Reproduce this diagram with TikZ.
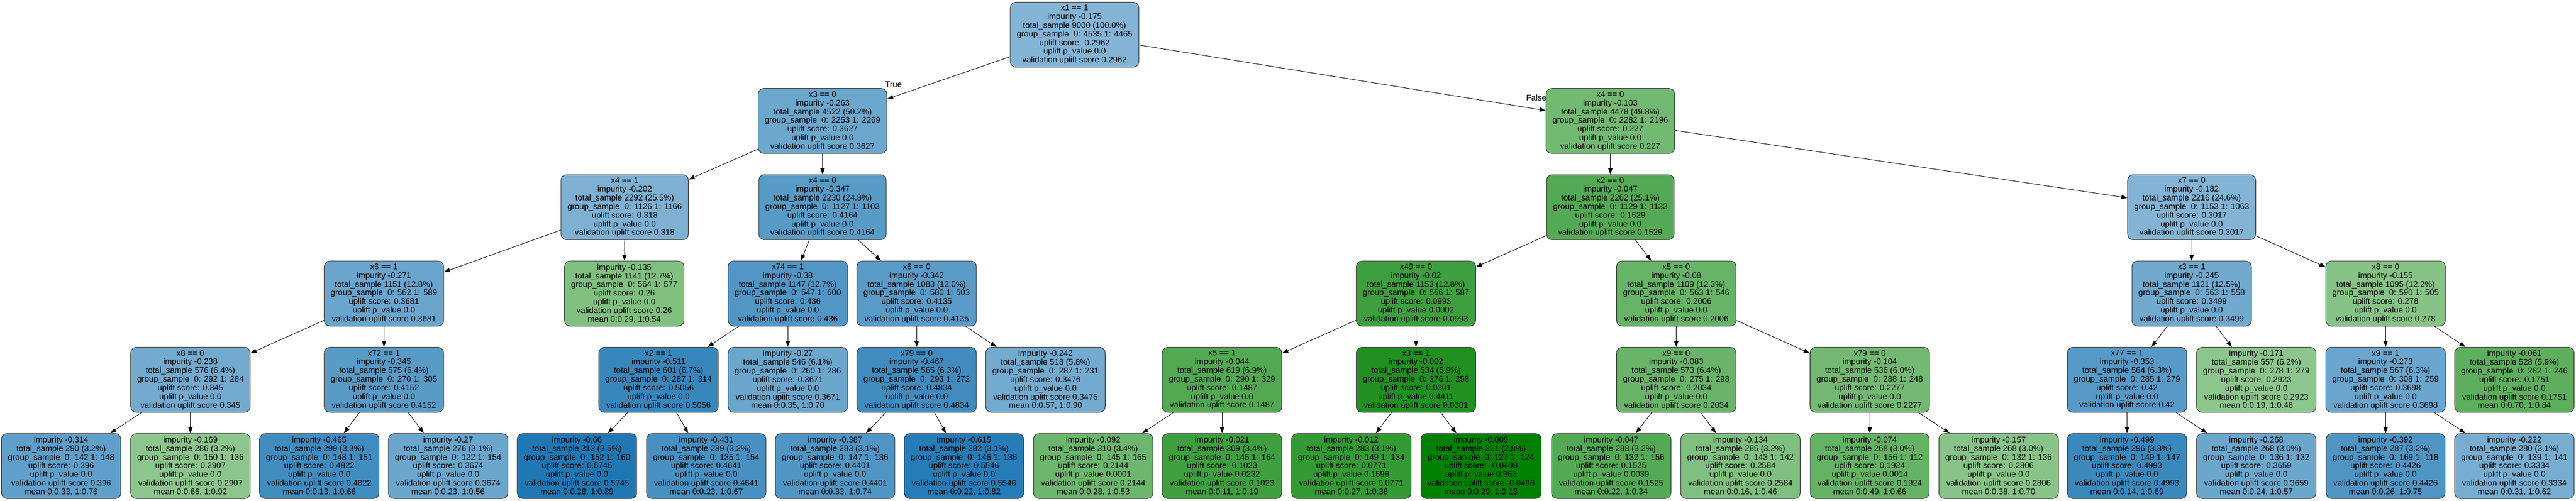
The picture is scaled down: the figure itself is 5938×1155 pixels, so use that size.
\documentclass[tikz,border=0pt]{standalone}
\usepackage{fontspec}
\setmainfont{Liberation Sans}
\usetikzlibrary{arrows.meta}

\definecolor{upblue}{HTML}{1F78B4}
\definecolor{upgreen}{HTML}{008000}

% text of a split node and of a leaf
\newcommand\splitlbl[7]{#1\\impurity #2\\total\_sample #3\\group\_sample~ 0: #4 1: #5\\uplift score: #6\\uplift p\_value #7\\validation uplift score #6}
\newcommand\leaflbl[8]{impurity #1\\total\_sample #2\\group\_sample~ 0: #3 1: #4\\uplift score: #5\\uplift p\_value #6\\validation uplift score #5\\mean 0:#7, 1:#8}

\tikzset{
  treenode/.style={draw=black!80, line width=1.3pt, rounded corners=13pt, align=center,
    inner xsep=15pt, inner ysep=0pt, minimum height=150pt, text=black,
    font=\fontsize{19}{20}\selectfont},
  bluenode/.code={\pgfmathsetmacro\nodepct{100-163*(0.5745-#1)}%
    \edef\nodeopts{\noexpand\pgfkeysalso{treenode, fill=upblue!\nodepct!white}}\nodeopts},
  greennode/.code={\pgfmathsetmacro\nodepct{100-162*(#1+0.0498)}%
    \edef\nodeopts{\noexpand\pgfkeysalso{treenode, fill=upgreen!\nodepct!white}}\nodeopts},
  branchlbl/.style={inner sep=0pt, text=black, font=\fontsize{19}{20}\selectfont},
}

\begin{document}
\begin{tikzpicture}[x=1pt, y=-1pt, ->, >={Triangle[length=14pt, width=10pt]}, line width=1.1pt]
\useasboundingbox (0,0) rectangle (5938,1155);

% level 0 and 1
\node[bluenode=0.2962] (r) at (2477,80) {\splitlbl{x1 == 1}{-0.175}{9000 (100.0\%)}{4535}{4465}{0.2962}{0.0}};
\node[bluenode=0.3627] (L) at (1896,279) {\splitlbl{x3 == 0}{-0.263}{4522 (50.2\%)}{2253}{2269}{0.3627}{0.0}};
\node[greennode=0.227] (R) at (3712,279) {\splitlbl{x4 == 0}{-0.103}{4478 (49.8\%)}{2282}{2196}{0.227}{0.0}};

% level 2
\node[bluenode=0.318] (LL) at (1440,478) {\splitlbl{x4 == 1}{-0.202}{2292 (25.5\%)}{1126}{1166}{0.318}{0.0}};
\node[bluenode=0.4164] (LR) at (1896,478) {\splitlbl{x4 == 0}{-0.347}{2230 (24.8\%)}{1127}{1103}{0.4164}{0.0}};
\node[greennode=0.1529] (RL) at (3712,478) {\splitlbl{x2 == 0}{-0.047}{2262 (25.1\%)}{1129}{1133}{0.1529}{0.0}};
\node[bluenode=0.3017] (RR) at (5052,478) {\splitlbl{x7 == 0}{-0.182}{2216 (24.6\%)}{1153}{1063}{0.3017}{0.0}};

% level 3
\node[bluenode=0.3681] (LLL) at (885,677) {\splitlbl{x6 == 1}{-0.271}{1151 (12.8\%)}{562}{589}{0.3681}{0.0}};
\node[greennode=0.26] (LLR) at (1439,677) {\leaflbl{-0.135}{1141 (12.7\%)}{564}{577}{0.26}{0.0}{0.29}{0.54}};
\node[bluenode=0.436] (LRL) at (1816,677) {\splitlbl{x74 == 1}{-0.38}{1147 (12.7\%)}{547}{600}{0.436}{0.0}};
\node[bluenode=0.4135] (LRR) at (2113,677) {\splitlbl{x6 == 0}{-0.342}{1083 (12.0\%)}{580}{503}{0.4135}{0.0}};
\node[greennode=0.0993] (RLL) at (3264,677) {\splitlbl{x49 == 0}{-0.02}{1153 (12.8\%)}{566}{587}{0.0993}{0.0002}};
\node[greennode=0.2006] (RLR) at (3864,677) {\splitlbl{x5 == 0}{-0.08}{1109 (12.3\%)}{563}{546}{0.2006}{0.0}};
\node[bluenode=0.3499] (RRL) at (5052,677) {\splitlbl{x3 == 1}{-0.245}{1121 (12.5\%)}{563}{558}{0.3499}{0.0}};
\node[greennode=0.278] (RRR) at (5499,677) {\splitlbl{x8 == 0}{-0.155}{1095 (12.2\%)}{590}{505}{0.278}{0.0}};

% level 4
\node[bluenode=0.345] (LLLL) at (439,876) {\splitlbl{x8 == 0}{-0.238}{576 (6.4\%)}{292}{284}{0.345}{0.0}};
\node[bluenode=0.4152] (LLLR) at (885,876) {\splitlbl{x72 == 1}{-0.345}{575 (6.4\%)}{270}{305}{0.4152}{0.0}};
\node[bluenode=0.5056] (LRLL) at (1518,876) {\splitlbl{x2 == 1}{-0.511}{601 (6.7\%)}{287}{314}{0.5056}{0.0}};
\node[bluenode=0.3671] (LRLR) at (1816,876) {\leaflbl{-0.27}{546 (6.1\%)}{260}{286}{0.3671}{0.0}{0.35}{0.70}};
\node[bluenode=0.4834] (LRRL) at (2113,876) {\splitlbl{x79 == 0}{-0.467}{565 (6.3\%)}{293}{272}{0.4834}{0.0}};
\node[bluenode=0.3476] (LRRR) at (2410,876) {\leaflbl{-0.242}{518 (5.8\%)}{287}{231}{0.3476}{0.0}{0.57}{0.90}};
\node[greennode=0.1487] (RLLL) at (2817,876) {\splitlbl{x5 == 1}{-0.044}{619 (6.9\%)}{290}{329}{0.1487}{0.0}};
\node[greennode=0.0301] (RLLR) at (3264,876) {\splitlbl{x3 == 1}{-0.002}{534 (5.9\%)}{276}{258}{0.0301}{0.4411}};
\node[greennode=0.2034] (RLRL) at (3864,876) {\splitlbl{x9 == 0}{-0.083}{573 (6.4\%)}{275}{298}{0.2034}{0.0}};
\node[greennode=0.2277] (RLRR) at (4310,876) {\splitlbl{x79 == 0}{-0.104}{536 (6.0\%)}{288}{248}{0.2277}{0.0}};
\node[bluenode=0.42] (RRLL) at (4903,876) {\splitlbl{x77 == 1}{-0.353}{564 (6.3\%)}{285}{279}{0.42}{0.0}};
\node[greennode=0.2923] (RRLR) at (5201,876) {\leaflbl{-0.171}{557 (6.2\%)}{278}{279}{0.2923}{0.0}{0.19}{0.46}};
\node[bluenode=0.3698] (RRRL) at (5499,876) {\splitlbl{x9 == 1}{-0.273}{567 (6.3\%)}{308}{259}{0.3698}{0.0}};
\node[greennode=0.1751] (RRRR) at (5796,876) {\leaflbl{-0.061}{528 (5.9\%)}{282}{246}{0.1751}{0.0}{0.70}{0.84}};

% level 5
\node[bluenode=0.396] (LLLLL) at (141,1075) {\leaflbl{-0.314}{290 (3.2\%)}{142}{148}{0.396}{0.0}{0.33}{0.76}};
\node[greennode=0.2907] (LLLLR) at (439,1075) {\leaflbl{-0.169}{286 (3.2\%)}{150}{136}{0.2907}{0.0}{0.66}{0.92}};
\node[bluenode=0.4822] (LLLRL) at (736,1075) {\leaflbl{-0.465}{299 (3.3\%)}{148}{151}{0.4822}{0.0}{0.13}{0.66}};
\node[bluenode=0.3674] (LLLRR) at (1033,1075) {\leaflbl{-0.27}{276 (3.1\%)}{122}{154}{0.3674}{0.0}{0.23}{0.56}};
\node[bluenode=0.5745] (LRLLL) at (1330,1075) {\leaflbl{-0.66}{312 (3.5\%)}{152}{160}{0.5745}{0.0}{0.28}{0.89}};
\node[bluenode=0.4641] (LRLLR) at (1628,1075) {\leaflbl{-0.431}{289 (3.2\%)}{135}{154}{0.4641}{0.0}{0.23}{0.67}};
\node[bluenode=0.4401] (LRRLL) at (1925,1075) {\leaflbl{-0.387}{283 (3.1\%)}{147}{136}{0.4401}{0.0}{0.33}{0.74}};
\node[bluenode=0.5546] (LRRLR) at (2222,1075) {\leaflbl{-0.615}{282 (3.1\%)}{146}{136}{0.5546}{0.0}{0.22}{0.82}};
\node[greennode=0.2144] (RLLLL) at (2520,1075) {\leaflbl{-0.092}{310 (3.4\%)}{145}{165}{0.2144}{0.0001}{0.28}{0.53}};
\node[greennode=0.1023] (RLLLR) at (2817,1075) {\leaflbl{-0.021}{309 (3.4\%)}{145}{164}{0.1023}{0.0232}{0.11}{0.19}};
\node[greennode=0.0771] (RLLRL) at (3115,1075) {\leaflbl{-0.012}{283 (3.1\%)}{149}{134}{0.0771}{0.1598}{0.27}{0.38}};
\node[greennode=-0.0498] (RLLRR) at (3414,1075) {\leaflbl{-0.005}{251 (2.8\%)}{127}{124}{-0.0498}{0.366}{0.29}{0.18}};
\node[greennode=0.1525] (RLRLL) at (3714,1075) {\leaflbl{-0.047}{288 (3.2\%)}{132}{156}{0.1525}{0.0039}{0.22}{0.34}};
\node[greennode=0.2584] (RLRLR) at (4012,1075) {\leaflbl{-0.134}{285 (3.2\%)}{143}{142}{0.2584}{0.0}{0.16}{0.46}};
\node[greennode=0.1924] (RLRRL) at (4310,1075) {\leaflbl{-0.074}{268 (3.0\%)}{156}{112}{0.1924}{0.0014}{0.49}{0.66}};
\node[greennode=0.2806] (RLRRR) at (4607,1075) {\leaflbl{-0.157}{268 (3.0\%)}{132}{136}{0.2806}{0.0}{0.38}{0.70}};
\node[bluenode=0.4993] (RRLLL) at (4903,1075) {\leaflbl{-0.499}{296 (3.3\%)}{149}{147}{0.4993}{0.0}{0.14}{0.69}};
\node[bluenode=0.3659] (RRLLR) at (5201,1075) {\leaflbl{-0.268}{268 (3.0\%)}{136}{132}{0.3659}{0.0}{0.24}{0.57}};
\node[bluenode=0.4426] (RRRLL) at (5499,1075) {\leaflbl{-0.392}{287 (3.2\%)}{169}{118}{0.4426}{0.0}{0.26}{0.75}};
\node[bluenode=0.3334] (RRRLR) at (5796,1075) {\leaflbl{-0.222}{280 (3.1\%)}{139}{141}{0.3334}{0.0}{0.31}{0.62}};

% branch labels of the root
\node[branchlbl, anchor=south west] (truelbl) at ([shift={(-5,-1)}]L.north east) {True};
\node[branchlbl, anchor=south east] (falselbl) at ([shift={(2,29)}]R.north west) {False};

\path
(r) edge (L) edge (R)
(L) edge (LL) edge (LR)
(R) edge (RL) edge (RR)
(LL) edge (LLL) edge (LLR)
(LR) edge (LRL) edge (LRR)
(RL) edge (RLL) edge (RLR)
(RR) edge (RRL) edge (RRR)
(LLL) edge (LLLL) edge (LLLR)
(LRL) edge (LRLL) edge (LRLR)
(LRR) edge (LRRL) edge (LRRR)
(RLL) edge (RLLL) edge (RLLR)
(RLR) edge (RLRL) edge (RLRR)
(RRL) edge (RRLL) edge (RRLR)
(RRR) edge (RRRL) edge (RRRR)
(LLLL) edge (LLLLL) edge (LLLLR)
(LLLR) edge (LLLRL) edge (LLLRR)
(LRLL) edge (LRLLL) edge (LRLLR)
(LRRL) edge (LRRLL) edge (LRRLR)
(RLLL) edge (RLLLL) edge (RLLLR)
(RLLR) edge (RLLRL) edge (RLLRR)
(RLRL) edge (RLRLL) edge (RLRLR)
(RLRR) edge (RLRRL) edge (RLRRR)
(RRLL) edge (RRLLL) edge (RRLLR)
(RRRL) edge (RRRLL) edge (RRRLR);
\end{tikzpicture}
\end{document}
